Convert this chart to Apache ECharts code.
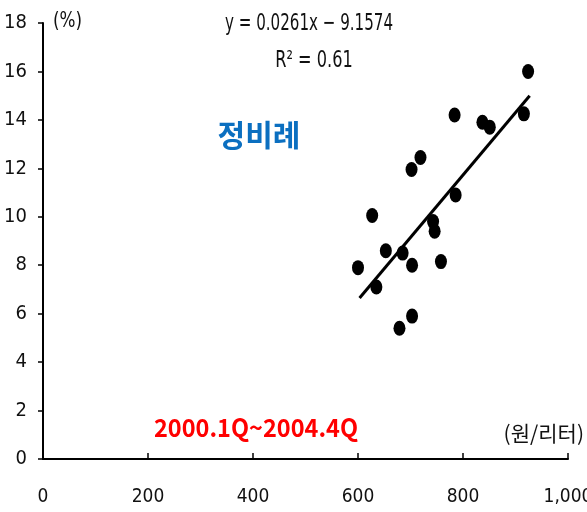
<!DOCTYPE html>
<html>
<head>
<meta charset="utf-8">
<script src="https://cdn.jsdelivr.net/npm/echarts@6/dist/echarts.min.js"></script>
<style>
  html, body { margin: 0; padding: 0; background: #fff; }
  #main { width: 587px; height: 512px; }
</style>
</head>
<body>
<div id="main"></div>
<script>
// 휘발유 가격(원/리터) vs 비율(%)
var priceX = [924, 916, 784, 837, 851, 719, 702, 786, 627, 743, 746, 653, 685, 703, 758, 600, 635, 703, 679];
var rateY  = [16.0, 14.25, 14.2, 13.9, 13.7, 12.45, 11.95, 10.9, 10.05, 9.8, 9.4, 8.6, 8.5, 8.0, 8.15, 7.9, 7.1, 5.9, 5.4];
var trendX = [603, 927];
var trendY = [6.65, 15.0];
var xTicks = [0, 200, 400, 600, 800, 1000];
var yTicks = [0, 2, 4, 6, 8, 10, 12, 14, 16, 18];

var numFont = '"DejaVu Sans Condensed", sans-serif';
var krFont = '"Noto Sans CJK KR", sans-serif';

var points = [];
for (var i = 0; i < priceX.length; i++) {
    points.push([priceX[i], rateY[i]]);
}
var trend = [[trendX[0], trendY[0]], [trendX[1], trendY[1]]];

var chart = echarts.init(document.getElementById('main'));
chart.setOption({
    backgroundColor: '#fff',
    animation: false,
    grid: { left: 43, right: 19, top: 23, bottom: 53, outerBoundsMode: 'none', containLabel: false },
    xAxis: {
        type: 'value',
        min: 0, max: 1000, interval: 200,
        axisLine: { lineStyle: { color: '#000', width: 2 } },
        axisTick: { show: true, inside: true, length: 6, lineStyle: { color: '#000', width: 1.5 } },
        axisLabel: {
            margin: 29, color: '#111', fontSize: 19, fontFamily: numFont,
            formatter: function (v) {
                return xTicks.indexOf(v) >= 0 ? (v === 1000 ? '1,000' : String(v)) : '';
            }
        },
        splitLine: { show: false }
    },
    yAxis: {
        type: 'value',
        min: 0, max: 18, interval: 2,
        axisLine: { show: true, lineStyle: { color: '#000', width: 2 } },
        axisTick: { show: true, length: 5, lineStyle: { color: '#000', width: 1.5 } },
        axisLabel: {
            margin: 16, color: '#111', fontSize: 20, fontFamily: numFont,
            formatter: function (v) { return yTicks.indexOf(v) >= 0 ? String(v) : ''; }
        },
        splitLine: { show: false }
    },
    series: [
        {
            type: 'scatter',
            data: points,
            symbol: 'circle',
            symbolSize: [12, 15],
            itemStyle: { color: '#000', opacity: 1 },
            z: 3
        },
        {
            type: 'line',
            data: trend,
            symbol: 'none',
            lineStyle: { color: '#000', width: 3 },
            z: 2
        }
    ],
    graphic: [
        { type: 'text', x: 53, y: 21, scaleX: 0.85, style: { text: '(%)', font: '22px ' + numFont, fill: '#111', textVerticalAlign: 'middle' } },
        { type: 'text', x: 309, y: 24, scaleX: 0.73, style: { text: 'y = 0.0261x − 9.1574', font: '23px ' + numFont, fill: '#111', textAlign: 'center', textVerticalAlign: 'middle' } },
        { type: 'text', x: 314, y: 61, scaleX: 0.78, style: { text: 'R² = 0.61', font: '23px ' + numFont, fill: '#111', textAlign: 'center', textVerticalAlign: 'middle' } },
        { type: 'text', x: 259, y: 135, style: { text: '정비례', font: 'bold 30px ' + krFont, fill: '#0b6fc0', textAlign: 'center', textVerticalAlign: 'middle' } },
        { type: 'text', x: 256, y: 427, scaleX: 0.94, style: { text: '2000.1Q~2004.4Q', font: 'bold 25px ' + krFont, fill: '#ff0000', textAlign: 'center', textVerticalAlign: 'middle' } },
        { type: 'text', x: 584, y: 433, style: { text: '(원/리터)', font: '21px ' + krFont, fill: '#111', textAlign: 'right', textVerticalAlign: 'middle' } }
    ]
});
</script>
</body>
</html>
